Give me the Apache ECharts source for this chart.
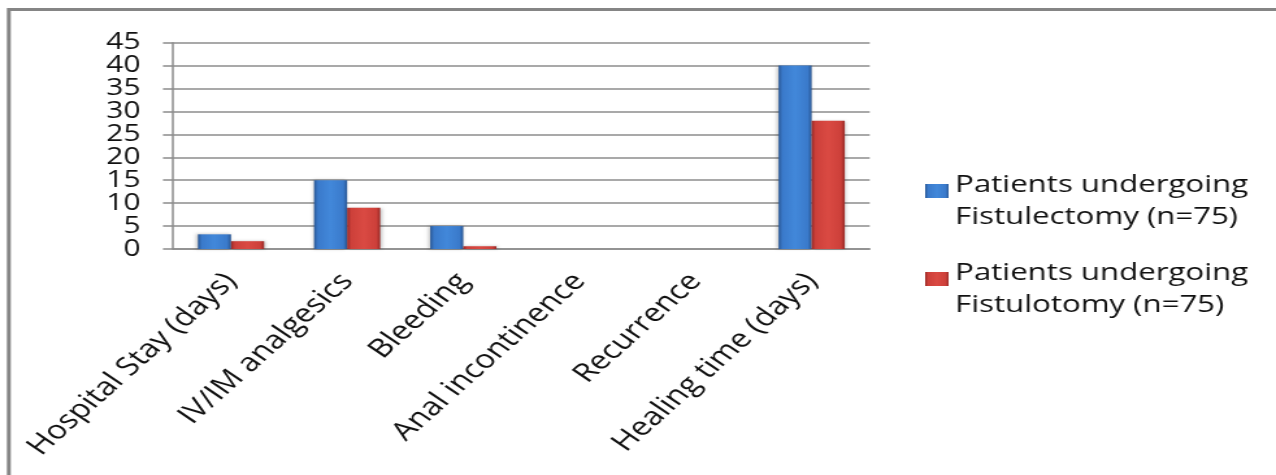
<!DOCTYPE html>
<html>
<head>
<meta charset="utf-8">
<script src="https://cdn.jsdelivr.net/npm/echarts@6/dist/echarts.min.js"></script>
<style>
  html, body { margin: 0; padding: 0; background: #fff; }
  #wrap { width: 1276px; height: 475px; overflow: hidden; position: relative; background: #fff; }
  /* the chart is laid out on a narrower canvas and widened horizontally */
  #chart { width: 982px; height: 475px; transform: scaleX(1.2994); transform-origin: 0 0; }
</style>
</head>
<body>
<div id="wrap"><div id="chart"></div></div>
<script>
const categories = ['Hospital Stay (days)', 'IV/IM analgesics', 'Bleeding', 'Anal incontinence', 'Recurrence', 'Healing time (days)'];
const fistulectomy = [3.2, 15, 5, 0, 0, 40];
const fistulotomy = [1.7, 9, 0.6, 0, 0, 28];
const seriesNames = ['Patients undergoing\nFistulectomy (n=75)', 'Patients undergoing\nFistulotomy (n=75)'];
const yTicks = { min: 0, max: 45, interval: 5 };

const FONT = 'Open Sans';

function barFill(edge, mid, light) {
  return new echarts.graphic.LinearGradient(0, 0, 1, 0, [
    { offset: 0, color: edge },
    { offset: 0.12, color: mid },
    { offset: 0.5, color: light },
    { offset: 0.88, color: mid },
    { offset: 1, color: edge }
  ]);
}

// legend entries: a short spacer line on top so the swatch sits beside the first text line
function legendText(name) {
  return '{s| }\n' + name.split('\n').map(l => '{t|' + l + '}').join('\n');
}

const chart = echarts.init(document.getElementById('chart'));
chart.setOption({
  animation: false,
  backgroundColor: '#fff',
  textStyle: { fontFamily: FONT },
  graphic: [{
    type: 'rect',
    shape: { x: 6.8, y: 9.5, width: 1200, height: 600 },
    style: { fill: 'none', stroke: '#858585', lineWidth: 3 },
    silent: true
  }],
  grid: { left: 133.1, right: 312.7, top: 42.7, bottom: 226 },
  legend: {
    orient: 'vertical',
    left: 712,
    top: 154,
    padding: 0,
    itemGap: 13,
    itemWidth: 18,
    itemHeight: 14,
    icon: 'rect',
    formatter: legendText,
    textStyle: {
      fontFamily: FONT, fontSize: 24, color: '#111',
      rich: {
        s: { fontSize: 10, lineHeight: 20 },
        t: { fontFamily: FONT, fontSize: 24, color: '#111', lineHeight: 32 }
      }
    },
    data: seriesNames
  },
  xAxis: {
    type: 'category',
    data: categories,
    axisLine: { lineStyle: { color: '#8c8c8c', width: 1.5 } },
    axisTick: { show: false },
    axisLabel: { rotate: 49, interval: 0, fontSize: 25.5, color: '#111', fontFamily: FONT, margin: 28 }
  },
  yAxis: {
    type: 'value',
    min: yTicks.min,
    max: yTicks.max,
    interval: yTicks.interval,
    axisLine: { show: true, lineStyle: { color: '#8c8c8c', width: 1.5 } },
    axisTick: { show: true, length: 7.7, lineStyle: { color: '#8c8c8c', width: 1.5 } },
    splitLine: { lineStyle: { color: '#8c8c8c', width: 1.5 } },
    axisLabel: {
      fontSize: 23, color: '#111', fontFamily: FONT, margin: 25, lineHeight: 23,
      showMinLabel: true, showMaxLabel: true, hideOverlap: false
    }
  },
  series: [{
    name: seriesNames[0],
    type: 'bar',
    data: fistulectomy,
    barGap: '0%',
    barCategoryGap: '43%',
    itemStyle: {
      color: barFill('#2a5794', '#3a7acb', '#4288da'),
      shadowColor: 'rgba(0,0,0,0.25)',
      shadowBlur: 3,
      shadowOffsetX: -1
    }
  }, {
    name: seriesNames[1],
    type: 'bar',
    data: fistulotomy,
    itemStyle: {
      color: barFill('#982a27', '#cd403a', '#da4a43'),
      shadowColor: 'rgba(0,0,0,0.25)',
      shadowBlur: 3,
      shadowOffsetX: 1
    }
  }]
});
</script>
</body>
</html>
